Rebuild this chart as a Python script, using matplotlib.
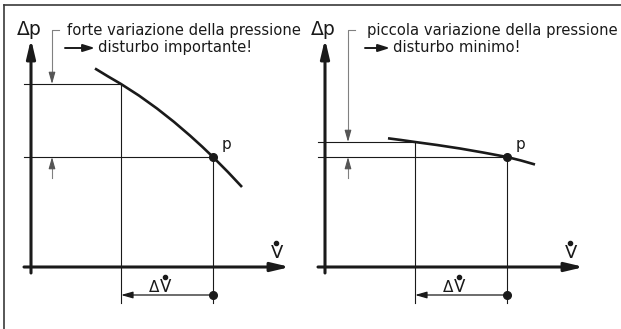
import matplotlib
matplotlib.use('Agg')
import matplotlib.pyplot as plt
from matplotlib.lines import Line2D

# curva ripida (sinistra): portata / differenza di pressione, unità arbitrarie
portata_ripida = [64, 77, 90, 108, 126, 143, 159, 171, 182, 197, 211]
pressione_ripida = [198.5, 190.6, 183, 171.4, 158.5, 145.1, 131.4, 120.5, 110, 94.9, 80]

# curva piatta (destra)
portata_piatta = [63, 76, 90, 112, 135, 158, 182, 196, 210]
pressione_piatta = [128.7, 127, 125, 122, 118.5, 114.5, 110, 106.5, 102.5]

# punto di lavoro p e punto a portata ridotta
portata_p = 182
pressione_p = 110
portata_ridotta = 90
pressione_ridotta = [183, 125]

testi = ['forte variazione della pressione', 'piccola variazione della pressione']
conseguenze = ['disturbo importante!', 'disturbo minimo!']

plt.rcParams['font.family'] = ['DejaVu Sans']

W, H = 621, 329
fig = plt.figure(figsize=(W / 100, H / 100), dpi=100)
fig.patch.set_facecolor('white')

nero = '#1a1a1a'
grigio = '#808080'

freccia_asse = dict(arrowstyle='-|>,head_length=11,head_width=2.6', lw=2.2,
                    color=nero, shrinkA=0, shrinkB=0, mutation_scale=1)
freccia_grigia = dict(arrowstyle='-|>,head_length=7,head_width=2.0', lw=0.8,
                      color='#555555', shrinkA=0, shrinkB=0, mutation_scale=1)
freccia_nera = dict(arrowstyle='-|>,head_length=7,head_width=2.0', lw=0.9,
                    color=nero, shrinkA=0, shrinkB=0, mutation_scale=1)
freccia_testo = dict(arrowstyle='-|>,head_length=7,head_width=2.2', lw=1.4,
                     color=nero, shrinkA=0, shrinkB=0, mutation_scale=1)

fs_testo = 10.6


def punto_v(ax, x, y, fs):
    # V con il punto sopra (portata volumetrica)
    ax.text(x, y, 'V', fontsize=fs, ha='center', va='baseline', color=nero)
    ax.plot(x - 1, y + 15.5, 'o', ms=3, color=nero)


def pannello(ax, q, dp, dp_rid, testo, conseguenza, q_guida, q_testo, q_seconda):
    ax.set_axis_off()

    # assi con frecce
    ax.annotate('', xy=(0, 228), xytext=(0, -6), arrowprops=freccia_asse)
    ax.annotate('', xy=(259, 0), xytext=(-7, 0), arrowprops=freccia_asse)

    # curva caratteristica
    ax.plot(q, dp, color=nero, lw=1.9, solid_capstyle='butt')

    # linee di riferimento
    ax.plot([-7, portata_ridotta, portata_ridotta], [dp_rid, dp_rid, -36],
            color=nero, lw=0.8)
    ax.plot([-7, portata_p, portata_p], [pressione_p, pressione_p, -36],
            color=nero, lw=0.8)
    ax.plot(portata_p, pressione_p, 'o', ms=5.5, color=nero)
    ax.text(portata_p + 9, pressione_p + 8, 'p', fontsize=11, color=nero,
            ha='left', va='baseline')

    # variazione di portata
    ax.annotate('', xy=(portata_ridotta, -28), xytext=(portata_p, -28),
                arrowprops=freccia_nera)
    ax.plot(portata_p, -28, 'o', ms=5.5, color=nero)
    x_dv = (portata_ridotta + portata_p) / 2 - 5
    ax.text(x_dv - 3, -25, 'Δ', fontsize=11, ha='right', va='baseline', color=nero)
    punto_v(ax, x_dv + 4, -25, 12)

    # etichette degli assi
    ax.text(-2, 232, 'Δp', fontsize=13.5, ha='center', va='baseline', color=nero)
    punto_v(ax, 246, 9, 13)

    # quota della variazione di pressione (grigia)
    ax.plot([q_guida + 7, q_guida, q_guida], [237, 237, dp_rid + 6],
            color=grigio, lw=0.8)
    ax.annotate('', xy=(q_guida, dp_rid), xytext=(q_guida, dp_rid + 10),
                arrowprops=freccia_grigia)
    ax.plot([q_guida, q_guida], [89, pressione_p - 6], color=grigio, lw=0.8)
    ax.annotate('', xy=(q_guida, pressione_p), xytext=(q_guida, pressione_p - 10),
                arrowprops=freccia_grigia)

    # testi
    ax.text(q_testo, 232.5, testo, fontsize=fs_testo, ha='left', va='baseline',
            color=nero)
    ax.annotate('', xy=(q_seconda - 3, 219), xytext=(q_testo - 2, 219),
                arrowprops=freccia_testo)
    ax.text(q_seconda, 215, conseguenza, fontsize=fs_testo, ha='left',
            va='baseline', color=nero)


# ogni pannello: 1 unità = 1 pixel, origine all'incrocio degli assi
ax1 = fig.add_axes([0, 0, 310 / W, 1])
ax1.set_xlim(-31, 279)
ax1.set_ylim(-62, 267)
ax2 = fig.add_axes([310 / W, 0, 311 / W, 1])
ax2.set_xlim(-15, 296)
ax2.set_ylim(-62, 267)

pannello(ax1, portata_ripida, pressione_ripida, pressione_ridotta[0],
         testi[0], conseguenze[0], 21, 36, 67)
pannello(ax2, portata_piatta, pressione_piatta, pressione_ridotta[1],
         testi[1], conseguenze[1], 23, 42, 68)

# cornice (solo lati sinistro e superiore)
fig.add_artist(Line2D([4 / W, 4 / W], [0, 1 - 4.5 / H], color='#3a3a3a', lw=1.2))
fig.add_artist(Line2D([4 / W, 1], [1 - 4.5 / H, 1 - 4.5 / H], color='#3a3a3a', lw=1.2))

fig.savefig('out.png', dpi=100)
